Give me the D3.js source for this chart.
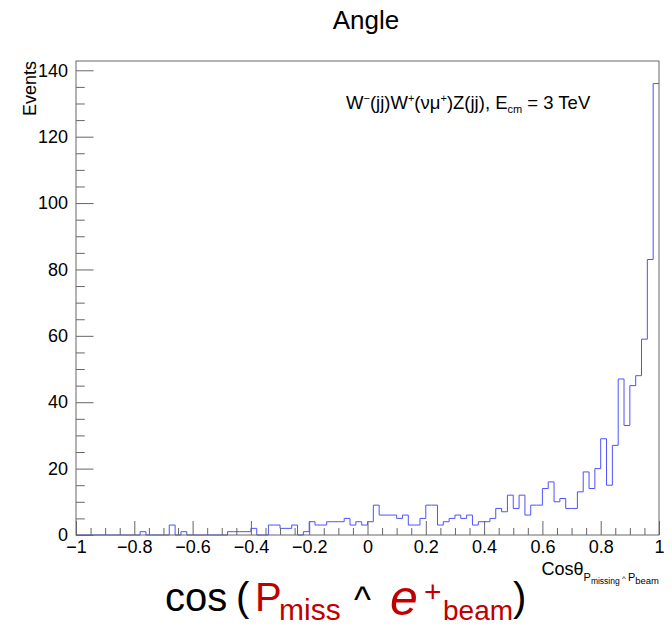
<!DOCTYPE html>
<html>
<head>
<meta charset="utf-8">
<script src="https://cdn.jsdelivr.net/npm/d3@7"></script>
<style>
  body { margin: 0; background: #fff; }
  svg { display: block; }
  text { font-family: "Liberation Sans", Arial, Helvetica, sans-serif; white-space: pre; }
</style>
</head>
<body>
<svg id="chart" width="672" height="627"></svg>
<script>
// Angular distribution: cosine of the angle between missing momentum and beam.
// 100 equal bins over [-1, 1].
const binLow = -1;
const binWidth = 0.02;
const counts = [
  0, 0, 0, 0, 0, 0, 0, 0, 0, 0,
  0, 1, 0, 0, 0, 0, 3, 0, 1, 0,
  0, 0, 0, 0, 0, 0, 1, 1, 1, 1,
  2, 0, 0, 3, 3, 2, 2, 3, 0, 1,
  4, 3, 3, 4, 4, 4, 5, 3, 4, 3,
  4, 9, 6, 6, 6, 5, 6, 3, 3, 5,
  9, 9, 3, 4, 5, 6, 5, 6, 3, 4,
  4, 5, 8, 7, 12, 8, 12, 6, 9, 9,
  14, 16, 10, 11, 8, 8, 13, 19, 14, 20,
  29, 15, 27, 47, 33, 45, 48, 59, 83, 136
];

const xTickValues = [-1, -0.8, -0.6, -0.4, -0.2, 0, 0.2, 0.4, 0.6, 0.8, 1];
const xTickLabels = ["\u22121", "\u22120.8", "\u22120.6", "\u22120.4", "\u22120.2", "0", "0.2", "0.4", "0.6", "0.8", "1"];
const yTickValues = [0, 20, 40, 60, 80, 100, 120, 140];
const yTickLabels = ["0", "20", "40", "60", "80", "100", "120", "140"];
const yMax = 142.8;

const svg = d3.select("#chart");
svg.append("rect").attr("width", 672).attr("height", 627).attr("fill", "#fff");

const frame = { left: 76, right: 659, top: 61, bottom: 535 };
const x = d3.scaleLinear().domain([binLow, binLow + binWidth * counts.length]).range([frame.left, frame.right]);
const y = d3.scaleLinear().domain([0, yMax]).range([frame.bottom, frame.top]);

const lineColor = "#666";

// Histogram outline as a step line
const pts = counts.map((c, i) => [binLow + i * binWidth, c]);
pts.push([binLow + counts.length * binWidth, counts[counts.length - 1]]);
const step = d3.line().x(d => x(d[0])).y(d => y(d[1])).curve(d3.curveStepAfter);
svg.append("path")
  .attr("d", step(pts))
  .attr("fill", "none")
  .attr("stroke", "#5050ff")
  .attr("stroke-width", 1);

// Y axis: major ticks with labels, minor ticks every 5
const yMinor = d3.range(0, yMax, 5).filter(v => v % 20 !== 0);
const yAxisG = svg.append("g").attr("transform", `translate(${frame.left},0)`);
yAxisG.call(d3.axisLeft(y).tickValues(yTickValues)
  .tickFormat((d, i) => yTickLabels[i]).tickSizeInner(-17.5).tickSizeOuter(0).tickPadding(8));
const yMinorG = svg.append("g").attr("transform", `translate(${frame.left},0)`);
yMinorG.call(d3.axisLeft(y).tickValues(yMinor).tickFormat("").tickSizeInner(-8.75).tickSizeOuter(0));

// X axis: major ticks with labels, minor ticks every 0.05
const xMinor = d3.range(-1, 1.0001, 0.05).filter(v => Math.abs(Math.round(v * 5) - v * 5) > 1e-6);
const xAxisG = svg.append("g").attr("transform", `translate(0,${frame.bottom})`);
xAxisG.call(d3.axisBottom(x).tickValues(xTickValues)
  .tickFormat((d, i) => xTickLabels[i]).tickSizeInner(-14).tickSizeOuter(0).tickPadding(5));
const xMinorG = svg.append("g").attr("transform", `translate(0,${frame.bottom})`);
xMinorG.call(d3.axisBottom(x).tickValues(xMinor).tickFormat("").tickSizeInner(-7).tickSizeOuter(0));

[yAxisG, yMinorG, xAxisG, xMinorG].forEach(g => {
  g.select(".domain").remove();
  g.selectAll(".tick line").attr("stroke", lineColor);
  g.selectAll(".tick text").attr("font-size", 18).attr("fill", "#000")
    .attr("font-family", "'Liberation Sans', Arial, sans-serif");
});

// Frame
svg.append("rect")
  .attr("x", frame.left).attr("y", frame.top)
  .attr("width", frame.right - frame.left).attr("height", frame.bottom - frame.top)
  .attr("fill", "none").attr("stroke", lineColor).attr("stroke-width", 1);

// Lays out a run of differently-styled text pieces along one baseline
function runs(parent, pieces, x0, baseline, anchor) {
  const g = parent.append("g");
  let cx = 0;
  pieces.forEach(p => {
    const t = g.append("text")
      .attr("x", cx).attr("y", baseline + (p.dy || 0))
      .attr("font-size", p.size)
      .attr("fill", p.fill || "#000")
      .text(p.t);
    if (p.family) t.attr("font-family", p.family);
    if (p.style) t.attr("font-style", p.style);
    cx += t.node().getComputedTextLength() + (p.kern || 0);
  });
  let shift = x0;
  if (anchor === "end") shift = x0 - cx;
  if (anchor === "middle") shift = x0 - cx / 2;
  g.attr("transform", `translate(${shift},0)`);
  return g;
}

// Title
svg.append("text").attr("x", 366).attr("y", 29).attr("text-anchor", "middle")
  .attr("font-size", 26).attr("fill", "#000").text("Angle");

// Y axis title, aligned to the top of the axis
svg.append("text")
  .attr("transform", `translate(36,${frame.top}) rotate(-90)`)
  .attr("text-anchor", "end").attr("font-size", 18).attr("fill", "#000")
  .text("Events");

// Process label
runs(svg, [
  { t: "W", size: 18.5 },
  { t: "\u2212", size: 11, dy: -7 },
  { t: "(jj)W", size: 18.5 },
  { t: "+", size: 11, dy: -7 },
  { t: "(\u03bd\u03bc", size: 18.5 },
  { t: "+", size: 11, dy: -7 },
  { t: ")Z(jj), E", size: 18.5 },
  { t: "cm", size: 11, dy: 4 },
  { t: " = 3 TeV", size: 18.5 }
], 346, 109, "start");

// X axis title
runs(svg, [
  { t: "Cos\u03b8", size: 18 },
  { t: "P", size: 11, dy: 6 },
  { t: "missing", size: 8.5, dy: 9 },
  { t: " ^ ", size: 8, dy: 6 },
  { t: "P", size: 11, dy: 6 },
  { t: "beam", size: 9.5, dy: 9 }
], 659, 575, "end");

// Caption under the plot, each piece placed along the line
const red = "#c00000";
const cap = "Lato, 'Open Sans', sans-serif";
const caption = svg.append("g");
[
  { t: "cos", x: 165, y: 611, size: 40 },
  { t: "(", x: 236, y: 611, size: 40 },
  { t: "P", x: 255, y: 611, size: 40, fill: red },
  { t: "miss", x: 279, y: 620, size: 30, fill: red },
  { t: "^", x: 354, y: 612, size: 36 },
  { t: "e", x: 390, y: 615, size: 50, fill: red, family: "'Liberation Serif', serif", style: "italic" },
  { t: "+", x: 424, y: 602, size: 30, fill: red },
  { t: "beam", x: 443, y: 620, size: 28, fill: red },
  { t: ")", x: 513, y: 611, size: 40 }
].forEach(p => {
  caption.append("text")
    .attr("x", p.x).attr("y", p.y)
    .attr("font-size", p.size)
    .attr("font-family", p.family || cap)
    .attr("font-style", p.style || "normal")
    .attr("fill", p.fill || "#000")
    .text(p.t);
});
</script>
</body>
</html>
